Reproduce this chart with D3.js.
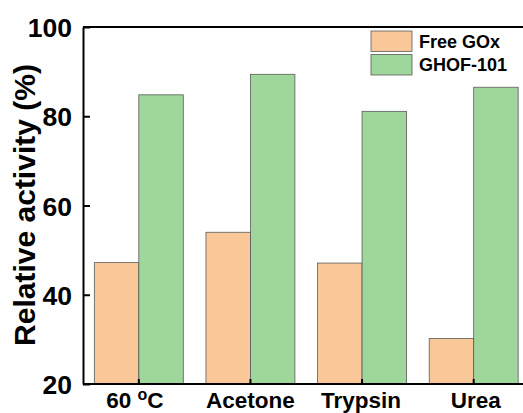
<!DOCTYPE html>
<html>
<head>
<meta charset="utf-8">
<script src="https://cdn.jsdelivr.net/npm/d3@7"></script>
<style>
  html, body { margin: 0; padding: 0; background: #fff; }
  svg { display: block; font-family: "Liberation Sans", Arial, sans-serif; }
</style>
</head>
<body>
<svg id="chart" width="523" height="413"></svg>
<script>
// Relative activity of free vs. immobilised GOx after different treatments
const categories = ["60 °C", "Acetone", "Trypsin", "Urea"];
const seriesNames = ["Free GOx", "GHOF-101"];
const freeGOx = [47.2, 54.0, 47.1, 30.2];
const ghof101 = [84.8, 89.4, 81.1, 86.5];
const yTicks = [20, 40, 60, 80, 100];
const colors = ["#FAC898", "#9ED69B"];

const svg = d3.select("#chart");
const plot = { left: 83, top: 27, bottom: 384, right: 529.5 };

const x = d3.scaleBand().domain(categories).range([plot.left, plot.right]).paddingInner(0).paddingOuter(0);
const inner = d3.scaleBand().domain(seriesNames).range([0, x.bandwidth()]).paddingOuter(0.255).paddingInner(0);
const y = d3.scaleLinear().domain([20, 100]).range([plot.bottom, plot.top]);

const rows = categories.map((c, i) => ({ cat: c, values: [freeGOx[i], ghof101[i]] }));

// bars
const groups = svg.append("g").selectAll("g").data(rows).join("g")
  .attr("transform", d => `translate(${x(d.cat)},0)`);
groups.selectAll("rect")
  .data(d => d.values.map((v, j) => ({ name: seriesNames[j], v, j })))
  .join("rect")
  .attr("x", d => inner(d.name))
  .attr("y", d => y(d.v))
  .attr("width", inner.bandwidth())
  .attr("height", d => y(20) - y(d.v))
  .attr("fill", d => colors[d.j])
  .attr("stroke", "#5a5a5a")
  .attr("stroke-width", 0.8);

// frame: top line
svg.append("line").attr("x1", plot.left).attr("x2", 523).attr("y1", plot.top).attr("y2", plot.top)
  .attr("stroke", "#000").attr("stroke-width", 2);

// y axis (ticks pointing inward)
const yAxis = svg.append("g").attr("transform", `translate(${plot.left},0)`)
  .call(d3.axisLeft(y).tickValues(yTicks).tickSize(-7).tickPadding(11).tickSizeOuter(0));
yAxis.select(".domain").attr("stroke-width", 2);
yAxis.selectAll(".tick line").attr("stroke-width", 2);
yAxis.selectAll("text").attr("font-size", 26.5).attr("font-weight", "bold").attr("fill", "#000")
  .attr("dy", "0.36em");

// x axis (ticks pointing inward)
const xAxis = svg.append("g").attr("transform", `translate(0,${plot.bottom})`)
  .call(d3.axisBottom(x).tickSize(-5).tickSizeOuter(0).tickFormat(() => ""));
xAxis.select(".domain").attr("stroke-width", 2).attr("d", `M${plot.left},0H523`);
xAxis.selectAll(".tick line").attr("stroke-width", 2);

// category labels (with superscript degree sign)
const labelShift = [-4, 0, -1, 2];
const labels = svg.append("g").selectAll("text").data(categories).join("text")
  .attr("x", (d, i) => x(d) + x.bandwidth() / 2 + labelShift[i])
  .attr("y", 408)
  .attr("text-anchor", "middle")
  .attr("font-size", 22.5)
  .attr("font-weight", "bold")
  .attr("fill", "#000");
labels.each(function(d) {
  const t = d3.select(this);
  if (d.includes("°")) {
    const parts = d.split("°");
    t.append("tspan").text(parts[0]);
    t.append("tspan").attr("dy", -8).attr("font-size", 16).text("o");
    t.append("tspan").attr("dy", 8).text(parts[1]);
  } else {
    t.text(d);
  }
});

// y axis title
svg.append("text")
  .attr("transform", "translate(35,205) rotate(-90)")
  .attr("text-anchor", "middle")
  .attr("font-size", 30)
  .attr("font-weight", "bold")
  .attr("fill", "#000")
  .text("Relative activity (%)");

// legend
const legend = svg.append("g").attr("transform", "translate(371,31)");
seriesNames.forEach((name, i) => {
  legend.append("rect").attr("x", 0).attr("y", i * 23.5).attr("width", 41).attr("height", 20.5)
    .attr("fill", colors[i]).attr("stroke", "#5a5a5a").attr("stroke-width", 0.8);
  legend.append("text").attr("x", 48).attr("y", i * 23.5 + 16.5).attr("font-size", 18)
    .attr("font-weight", "bold").attr("fill", "#000").text(name);
});
</script>
</body>
</html>
